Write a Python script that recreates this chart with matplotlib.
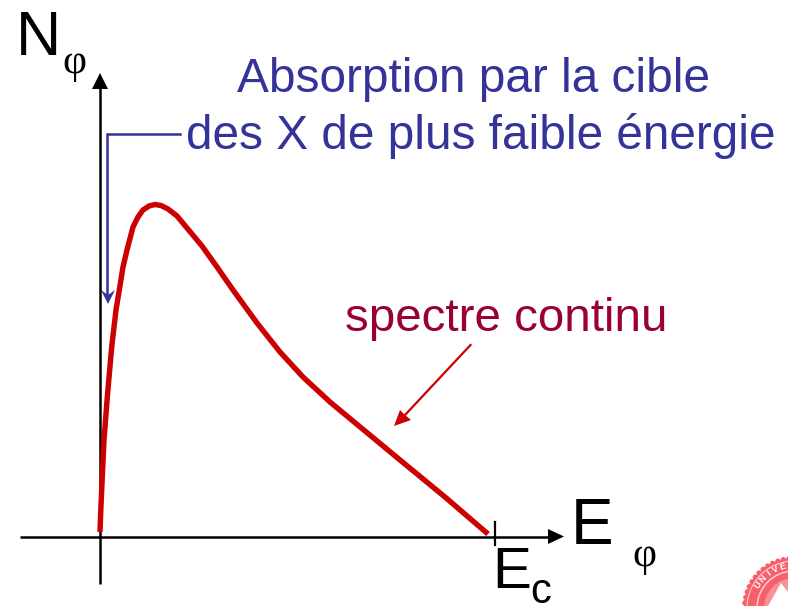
import matplotlib
matplotlib.use("Agg")
import matplotlib.pyplot as plt
from matplotlib.patches import Circle, Polygon
import numpy as np

plt.rcParams['font.family'] = ['Liberation Sans', 'DejaVu Sans']

# curve (pixels)
curve_x = [100, 100.8, 101.7, 104, 107.3, 111.7, 116, 119.3, 123, 127, 133, 138, 143, 149, 155, 161, 168, 177, 187, 202, 217, 233, 257, 280, 303, 330, 365, 400, 445, 488]
curve_y = [532, 510, 490, 440, 397, 347, 310, 290, 267, 250, 227, 217, 210, 206, 204.5, 205.5, 209, 216, 228, 246, 267, 290, 323, 352, 377, 402, 431, 460, 497, 534]

title_lines = ["Absorption par la cible", "des X de plus faible énergie"]
curve_label = "spectre continu"
seal_letters = ["U", "N", "I", "V", "E"]
seal_angles = [147, 137, 126, 116, 106]

blue = "#333399"
red = "#cc0000"
wine = "#990033"
seal = "#f75f6b"

fig = plt.figure(figsize=(7.88, 6.06), dpi=100)
ax = fig.add_axes([0, 0, 1, 1])
ax.set_xlim(0, 788)
ax.set_ylim(606, 0)
ax.axis("off")

# axes
ax.plot([100, 100], [584, 88], color="black", lw=1.8, solid_capstyle="butt")
ax.add_patch(Polygon([[100, 73], [92, 89], [108, 89]], color="black", lw=0))
ax.plot([20, 550], [536.5, 536.5], color="black", lw=1.8, solid_capstyle="butt")
ax.add_patch(Polygon([[564, 536.5], [548, 529], [548, 544]], color="black", lw=0))
ax.plot([495, 495], [522, 545], color="black", lw=1.6)

# blue bracket arrow
ax.plot([180, 107.5, 107.5], [133.5, 133.5, 296], color=blue, lw=1.8, solid_joinstyle="miter")
ax.add_patch(Polygon([[101, 290], [108, 304], [115, 290], [108, 295]], color=blue, lw=0))

# spectrum
ax.plot(curve_x, curve_y, color=red, lw=3.9, solid_capstyle="butt", solid_joinstyle="round")

# label arrow
ax.plot([470.5, 405], [345, 415], color=red, lw=1.6)
ax.add_patch(Polygon([[394, 426], [400, 410], [405, 415], [411, 420]], color=red, lw=0))

# texts
ax.text(474, 92, title_lines[0], color=blue, fontsize=34.4, ha="center", va="baseline")
ax.text(481, 149, title_lines[1], color=blue, fontsize=34.4, ha="center", va="baseline")
ax.text(506, 331, curve_label, color=wine, fontsize=34.2, ha="center", va="baseline")
ax.text(39, 55, "N", color="black", fontsize=45, ha="center", va="baseline")
ax.text(74, 73, "φ", color="black", fontsize=30, ha="center", va="baseline", family="Liberation Serif")
ax.text(592, 544, "E", color="black", fontsize=46, ha="center", va="baseline")
ax.text(644, 566, "φ", color="black", fontsize=30, ha="center", va="baseline", family="Liberation Serif")
ax.text(512, 588, "E", color="black", fontsize=42, ha="center", va="baseline")
ax.text(541, 603, "c", color="black", fontsize=30, ha="center", va="baseline")

# corner seal
cx, cy = 794, 608
for a in np.arange(96, 200, 6.5):
    ax.add_patch(Circle((cx + 49.5 * np.cos(np.radians(a)), cy - 49.5 * np.sin(np.radians(a))), 2.6, color=seal, lw=0))
ax.add_patch(Circle((cx, cy), 50, color=seal, lw=0))
ax.add_patch(Circle((cx, cy), 47, fill=False, ec="#ffc9cd", lw=0.8))
ax.add_patch(Circle((cx, cy), 37, fill=False, ec="#ffd5d8", lw=1.0))
ax.add_patch(Circle((cx, cy), 30, color="#fa8f97", lw=0))
ax.add_patch(Polygon([[768, 606], [781, 583], [788, 592], [788, 606]], color="white", lw=0))
for letter, a in zip(seal_letters, seal_angles):
    ax.text(cx + 42.5 * np.cos(np.radians(a)), cy - 42.5 * np.sin(np.radians(a)), letter, color="white",
            fontsize=6.5, fontweight="bold", ha="center", va="center", rotation=a - 90)

fig.savefig("out.png", dpi=100)
